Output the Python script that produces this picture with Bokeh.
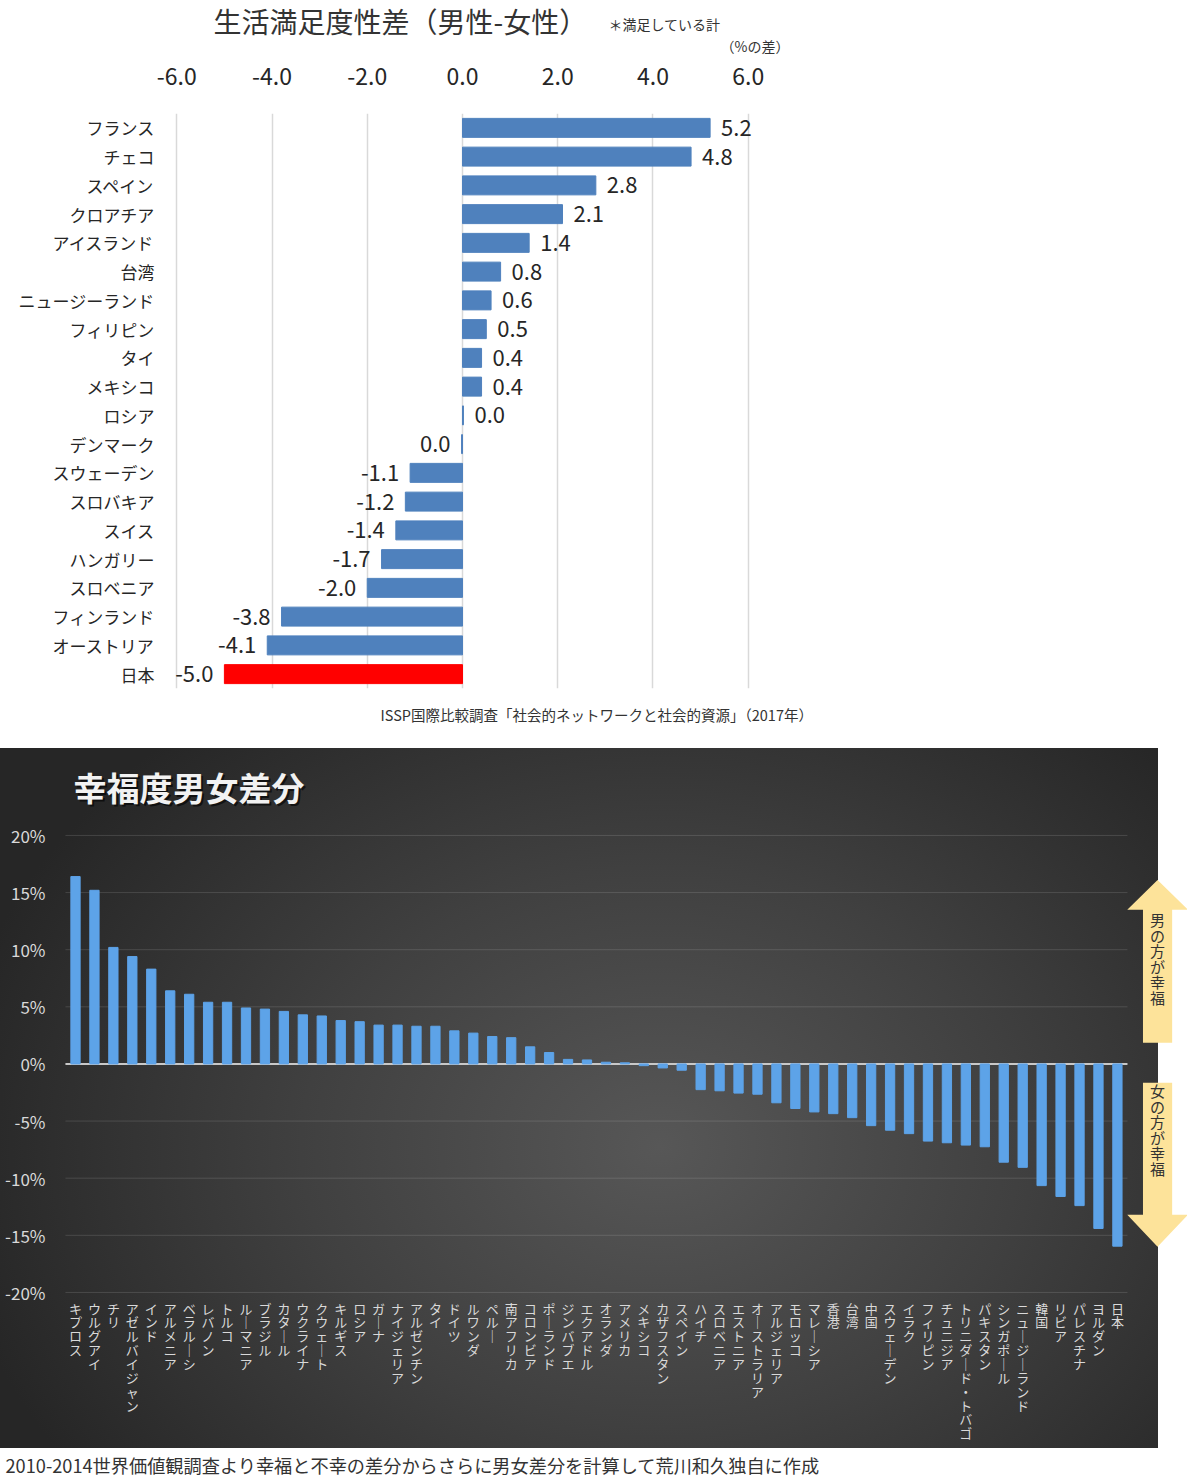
from bokeh.plotting import figure
from bokeh.models import (ColumnDataSource, FactorRange, Range1d, FixedTicker,
                          PrintfTickFormatter)
from bokeh.core.properties import value
from bokeh.embed import file_html
from bokeh.resources import INLINE

# ---------------- data: top chart (ISSP 2017) ----------------
issp_title = "生活満足度性差（男性-女性）"
issp_note = "＊満足している計"
issp_unit = "（%の差）"
issp_source = "ISSP国際比較調査「社会的ネットワークと社会的資源」（2017年）"
issp_countries = ["フランス", "チェコ", "スペイン", "クロアチア", "アイスランド", "台湾",
                  "ニュージーランド", "フィリピン", "タイ", "メキシコ", "ロシア", "デンマーク",
                  "スウェーデン", "スロバキア", "スイス", "ハンガリー", "スロベニア",
                  "フィンランド", "オーストリア", "日本"]
issp_values = [5.2, 4.8, 2.8, 2.1, 1.4, 0.8, 0.6, 0.5, 0.4, 0.4, 0.02, -0.02,
               -1.1, -1.2, -1.4, -1.7, -2.0, -3.8, -4.1, -5.0]
issp_ticks = [-6, -4, -2, 0, 2, 4, 6]
issp_highlight = "日本"

# ---------------- data: bottom chart (WVS 2010-2014) ----------------
wvs_title = "幸福度男女差分"
wvs_footer = "2010-2014世界価値観調査より幸福と不幸の差分からさらに男女差分を計算して荒川和久独自に作成"
wvs_up_text = "男の方が幸福"
wvs_down_text = "女の方が幸福"
wvs_countries = ["キプロス", "ウルグアイ", "チリ", "アゼルバイジャン", "インド", "アルメニア",
                 "ベラルーシ", "レバノン", "トルコ", "ルーマニア", "ブラジル", "カタール",
                 "ウクライナ", "クウェート", "キルギス", "ロシア", "ガーナ", "ナイジェリア",
                 "アルゼンチン", "タイ", "ドイツ", "ルワンダ", "ペルー", "南アフリカ",
                 "コロンビア", "ポーランド", "ジンバブエ", "エクアドル", "オランダ", "アメリカ",
                 "メキシコ", "カザフスタン", "スペイン", "ハイチ", "スロベニア", "エストニア",
                 "オーストラリア", "アルジェリア", "モロッコ", "マレーシア", "香港", "台湾",
                 "中国", "スウェーデン", "イラク", "フィリピン", "チュニジア", "トリニダード・トバゴ",
                 "パキスタン", "シンガポール", "ニュージーランド", "韓国", "リビア", "パレスチナ",
                 "ヨルダン", "日本"]
wvs_values = [16.4, 15.2, 10.2, 9.4, 8.3, 6.4, 6.1, 5.4, 5.4, 4.9, 4.8, 4.6,
              4.3, 4.2, 3.8, 3.7, 3.4, 3.4, 3.3, 3.3, 2.9, 2.7, 2.4, 2.3,
              1.5, 1.0, 0.4, 0.35, 0.15, 0.1, -0.15, -0.35, -0.55, -2.25, -2.35, -2.55,
              -2.65, -3.4, -3.9, -4.2, -4.35, -4.7, -5.4, -5.8, -6.1, -6.75, -6.9, -7.1,
              -7.25, -8.6, -9.05, -10.65, -11.6, -12.4, -14.4, -15.95]
wvs_ticks = [-20, -15, -10, -5, 0, 5, 10, 15, 20]

JP = "Noto Sans CJK JP"
W = 1187


def text_strip(height, items):
    """A plain strip (pixel coordinates, y downward) holding caption texts."""
    f = figure(width=W, height=height, output_backend="svg", toolbar_location=None,
               x_range=Range1d(0, W), y_range=Range1d(height, 0),
               x_axis_location=None, y_axis_location=None,
               min_border=0, min_border_left=0, min_border_right=0,
               min_border_top=0, min_border_bottom=0)
    f.outline_line_color = None
    f.grid.visible = False
    for (x, y, txt, size, color) in items:
        f.text(x=[x], y=[y], text=[txt], text_font=value(JP), text_font_size=size,
               text_color=color, text_baseline="middle", text_align="left")
    return f


# =============== header of top chart ===============
h1 = text_strip(56, [
    (213, 20, issp_title, "28px", "#333333"),
    (608, 23, issp_note, "14px", "#333333"),
    (720, 45.5, issp_unit, "14px", "#333333"),
])

# =============== top chart ===============
def fmt(v):
    s = f"{v:.1f}"
    return "0.0" if s == "-0.0" else s

src1 = ColumnDataSource(dict(
    country=issp_countries,
    val=issp_values,
    color=["#ff0000" if c == issp_highlight else "#4f81bd" for c in issp_countries],
    label=[fmt(v) for v in issp_values],
    align=["left" if v >= 0 else "right" for v in issp_values],
    xoff=[11 if v >= 0 else -11 for v in issp_values],
))

p1 = figure(width=W, height=639, output_backend="svg", toolbar_location=None,
            x_range=Range1d(-6.3, 6.3),
            y_range=FactorRange(factors=list(reversed(issp_countries))),
            x_axis_location="above",
            min_border_left=162, min_border_right=425,
            min_border_top=57, min_border_bottom=7)
p1.outline_line_color = None
p1.ygrid.grid_line_color = None
t1 = FixedTicker(ticks=issp_ticks)
p1.xaxis.ticker = t1
p1.xgrid.ticker = t1
p1.xgrid.grid_line_color = "#d9d9d9"
p1.xgrid.grid_line_width = 1.5
p1.xaxis.formatter = PrintfTickFormatter(format="%.1f")
for ax in (p1.xaxis, p1.yaxis):
    ax.axis_line_color = None
    ax.major_tick_line_color = None
    ax.minor_tick_line_color = None
    ax.major_label_text_color = "#262626"
    ax.major_label_text_font = JP
p1.xaxis.major_label_text_font_size = "23px"
p1.xaxis.major_label_standoff = 23
p1.yaxis.major_label_text_font_size = "17px"
p1.yaxis.major_label_standoff = 2

p1.hbar(y="country", right="val", left=0, height=0.66, color="color", source=src1)
p1.text(x="val", y="country", text="label", x_offset="xoff", text_align="align",
        text_baseline="middle", text_font=value(JP), text_font_size="22px",
        text_color="#262626", source=src1)

# =============== source line of top chart ===============
f1 = text_strip(53, [(380, 19, issp_source, "14.5px", "#333333")])

# =============== bottom chart ===============
n = len(wvs_countries)
idx = list(range(n))
src2 = ColumnDataSource(dict(x=idx, val=wvs_values))


def stacked(name):
    return "\n".join("｜" if ch == "ー" else ch for ch in name)


bg = ("radial-gradient(ellipse 62% 80% at 57% 57%, #575757 0%, #404040 50%, #262626 100%) "
      "0 0 / 1158px 700px no-repeat, #ffffff")

p2 = figure(width=W, height=700, output_backend="svg", toolbar_location=None,
            x_range=Range1d(-0.686, 58.70), y_range=Range1d(-20.53, 26.56),
            min_border_left=62, min_border_right=0,
            min_border_top=12, min_border_bottom=150,
            border_fill_color=None, background_fill_color=None,
            styles={"background": bg})
p2.outline_line_color = None
p2.grid.visible = False
t2 = FixedTicker(ticks=wvs_ticks)
p2.yaxis.ticker = t2
p2.yaxis.formatter = PrintfTickFormatter(format="%d%%")
p2.xaxis.ticker = FixedTicker(ticks=idx)
p2.xaxis.major_label_overrides = {i: stacked(c) for i, c in enumerate(wvs_countries)}
for ax in (p2.xaxis, p2.yaxis):
    ax.axis_line_color = None
    ax.major_tick_line_color = None
    ax.minor_tick_line_color = None
    ax.major_label_text_color = "#d9d9d9"
    ax.major_label_text_font = JP
p2.yaxis.major_label_text_font_size = "17px"
p2.yaxis.major_label_standoff = 11
p2.xaxis.major_label_text_font_size = "13px"
p2.xaxis.major_label_text_line_height = 0.73
p2.xaxis.major_label_standoff = -6

# horizontal gridlines at the y ticks, limited to the bar area
gx0, gx1 = -0.53, n - 1 + 0.53
p2.segment(x0=[gx0] * len(wvs_ticks), x1=[gx1] * len(wvs_ticks), y0=wvs_ticks, y1=wvs_ticks,
           line_color="#ffffff", line_alpha=0.13, line_width=1)
# zero line
p2.segment(x0=[gx0], x1=[gx1], y0=[0], y1=[0], line_color="#c8c8c8", line_width=2)
# bars
p2.vbar(x="x", top="val", bottom=0, width=0.49, color="#5da3e8", source=src2)

# direction arrows (to the right of the last country)
ax_c = n + 1.12
shaft_hw, head_hw = 0.77, 1.6
up_xs = [ax_c - shaft_hw, ax_c - shaft_hw, ax_c - head_hw, ax_c, ax_c + head_hw,
         ax_c + shaft_hw, ax_c + shaft_hw]
up_ys = [1.85, 13.5, 13.5, 16.1, 13.5, 13.5, 1.85]
dn_ys = [-1.65, -13.2, -13.2, -16.0, -13.2, -13.2, -1.65]
p2.patches(xs=[up_xs, up_xs], ys=[up_ys, dn_ys], fill_color="#fde39a", line_color=None)
p2.text(x=[ax_c, ax_c], y=[9.23, -5.73], text=[stacked(wvs_up_text), stacked(wvs_down_text)],
        text_align="center", text_baseline="middle", text_font=value(JP),
        text_font_size="15px", text_line_height=0.74, text_color="#333333")

# chart title (with a soft shadow)
p2.text(x=[-0.1], y=[24.2], text=[wvs_title], x_offset=2, y_offset=2,
        text_font=value(JP), text_font_size="33px", text_font_style="bold",
        text_color="#000000", text_alpha=0.6, text_baseline="middle", text_align="left")
p2.text(x=[-0.1], y=[24.2], text=[wvs_title],
        text_font=value(JP), text_font_size="33px", text_font_style="bold",
        text_color="#f2f2f2", text_baseline="middle", text_align="left")

# =============== footer of bottom chart ===============
f2 = text_strip(28, [(5, 16, wvs_footer, "18.2px", "#333333")])

open("out.html", "w").write(file_html([h1, p1, f1, p2, f2], INLINE))
